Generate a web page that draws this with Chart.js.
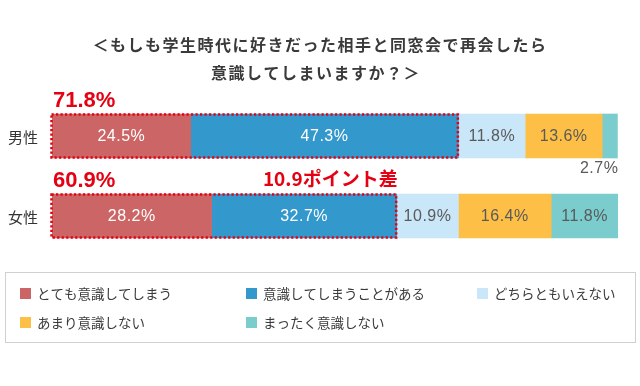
<!DOCTYPE html>
<html>
<head>
<meta charset="utf-8">
<script src="https://cdn.jsdelivr.net/npm/chart.js@4/dist/chart.umd.min.js"></script>
<style>
html,body{margin:0;padding:0;background:#fff;}
#wrap{width:640px;height:386px;position:relative;}
</style>
</head>
<body>
<div id="wrap"><canvas id="c" width="640" height="386"></canvas></div>
<script>
// ---- data ----
const titleLines = ['＜もしも学生時代に好きだった相手と同窓会で再会したら', '意識してしまいますか？＞'];
const categories = ['男性', '女性'];
const seriesNames = ['とても意識してしまう', '意識してしまうことがある', 'どちらともいえない', 'あまり意識しない', 'まったく意識しない'];
const veryConscious = [24.5, 28.2];
const sometimesConscious = [47.3, 32.7];
const neither = [11.8, 10.9];
const notMuch = [13.6, 16.4];
const notAtAll = [2.7, 11.8];
const totals = ['71.8%', '60.9%'];
const diffLabel = '10.9ポイント差';
const seriesColors = ['#CC6666', '#3398CB', '#C9E7F8', '#FEBF47', '#7BCCCD'];

const seriesValues = [veryConscious, sometimesConscious, neither, notMuch, notAtAll];
const RED = '#E50012';
const JP = '"Noto Sans CJK JP", sans-serif';
const NUM = '"Liberation Sans", "Noto Sans CJK JP", sans-serif';

const decor = {
  id: 'decor',
  afterDraw(chart) {
    const ctx = chart.ctx;
    ctx.save();
    // title
    ctx.fillStyle = '#3a3a3a';
    ctx.font = 'bold 16px ' + JP;
    ctx.textAlign = 'center';
    ctx.textBaseline = 'middle';
    try { ctx.letterSpacing = '1.5px'; } catch (e) {}
    ctx.fillText(titleLines[0], 320, 45);
    ctx.fillText(titleLines[1], 316, 73);
    try { ctx.letterSpacing = '0px'; } catch (e) {}

    // category labels
    ctx.font = '15px ' + JP;
    ctx.fillStyle = '#333';
    ctx.textAlign = 'left';
    const m0 = chart.getDatasetMeta(0);
    categories.forEach((c, j) => {
      ctx.fillText(c, 8, m0.data[j].y + 1);
    });

    // value labels
    ctx.font = '16px ' + NUM;
    try { ctx.letterSpacing = '0.5px'; } catch (e) {}
    seriesValues.forEach((vals, i) => {
      const meta = chart.getDatasetMeta(i);
      vals.forEach((v, j) => {
        const el = meta.data[j];
        const w = Math.abs(el.x - el.base);
        ctx.fillStyle = i < 2 ? '#ffffff' : '#5a5a5a';
        const txt = v.toFixed(1) + '%';
        if (w < 30) {
          ctx.textAlign = 'right';
          ctx.fillText(txt, el.x + 1, el.y + el.height / 2 + 11);
        } else {
          ctx.textAlign = 'center';
          ctx.fillText(txt, (el.x + el.base) / 2, el.y + 1);
        }
      });
    });
    try { ctx.letterSpacing = '0px'; } catch (e) {}

    // dotted red frames around the first two segments
    const m1 = chart.getDatasetMeta(1);
    ctx.strokeStyle = RED;
    ctx.lineWidth = 2.5;
    ctx.setLineDash([2.2, 2.3]);
    categories.forEach((c, j) => {
      const a = m0.data[j], b = m1.data[j];
      const x0 = a.base - 0.5, x1 = b.x - 0.5;
      const y0 = a.y - a.height / 2 + 0.5, y1 = a.y + a.height / 2 - 0.5;
      ctx.strokeRect(x0, y0, x1 - x0, y1 - y0);
    });
    ctx.setLineDash([]);

    // totals and difference
    ctx.fillStyle = RED;
    ctx.font = 'bold 22px ' + NUM;
    ctx.textAlign = 'left';
    categories.forEach((c, j) => {
      const a = m0.data[j];
      ctx.fillText(totals[j], a.base + 1, a.y - a.height / 2 - 13);
    });
    ctx.font = 'bold 19px ' + JP;
    ctx.textAlign = 'right';
    const fb = m1.data[1];
    ctx.fillText(diffLabel, fb.x + 1, fb.y - fb.height / 2 - 15);

    // legend box
    ctx.strokeStyle = '#d0d0d0';
    ctx.lineWidth = 1;
    ctx.strokeRect(5.5, 272.5, 630, 70);
    const cols = [20, 246, 477];
    const rows = [293.5, 322.5];
    ctx.font = '13.5px ' + JP;
    ctx.textAlign = 'left';
    seriesNames.forEach((n, i) => {
      const x = cols[i % 3], y = rows[Math.floor(i / 3)];
      ctx.fillStyle = seriesColors[i];
      ctx.fillRect(x, y - 5.5, 11, 11);
      ctx.fillStyle = '#3a3a3a';
      ctx.fillText(n, x + 17, y + 0.5);
    });
    ctx.restore();
  }
};

new Chart(document.getElementById('c'), {
  type: 'bar',
  data: {
    labels: categories,
    datasets: seriesValues.map((vals, i) => ({
      label: seriesNames[i],
      data: vals,
      backgroundColor: seriesColors[i],
      borderWidth: 0,
      barThickness: 44
    }))
  },
  options: {
    indexAxis: 'y',
    responsive: false,
    animation: false,
    events: [],
    layout: { padding: { left: 52, right: 22, top: 96, bottom: 130 } },
    scales: {
      x: { stacked: true, min: 0, max: 100, display: false },
      y: { stacked: true, display: false }
    },
    plugins: {
      legend: { display: false },
      title: { display: false },
      tooltip: { enabled: false }
    }
  },
  plugins: [decor]
});
</script>
</body>
</html>
